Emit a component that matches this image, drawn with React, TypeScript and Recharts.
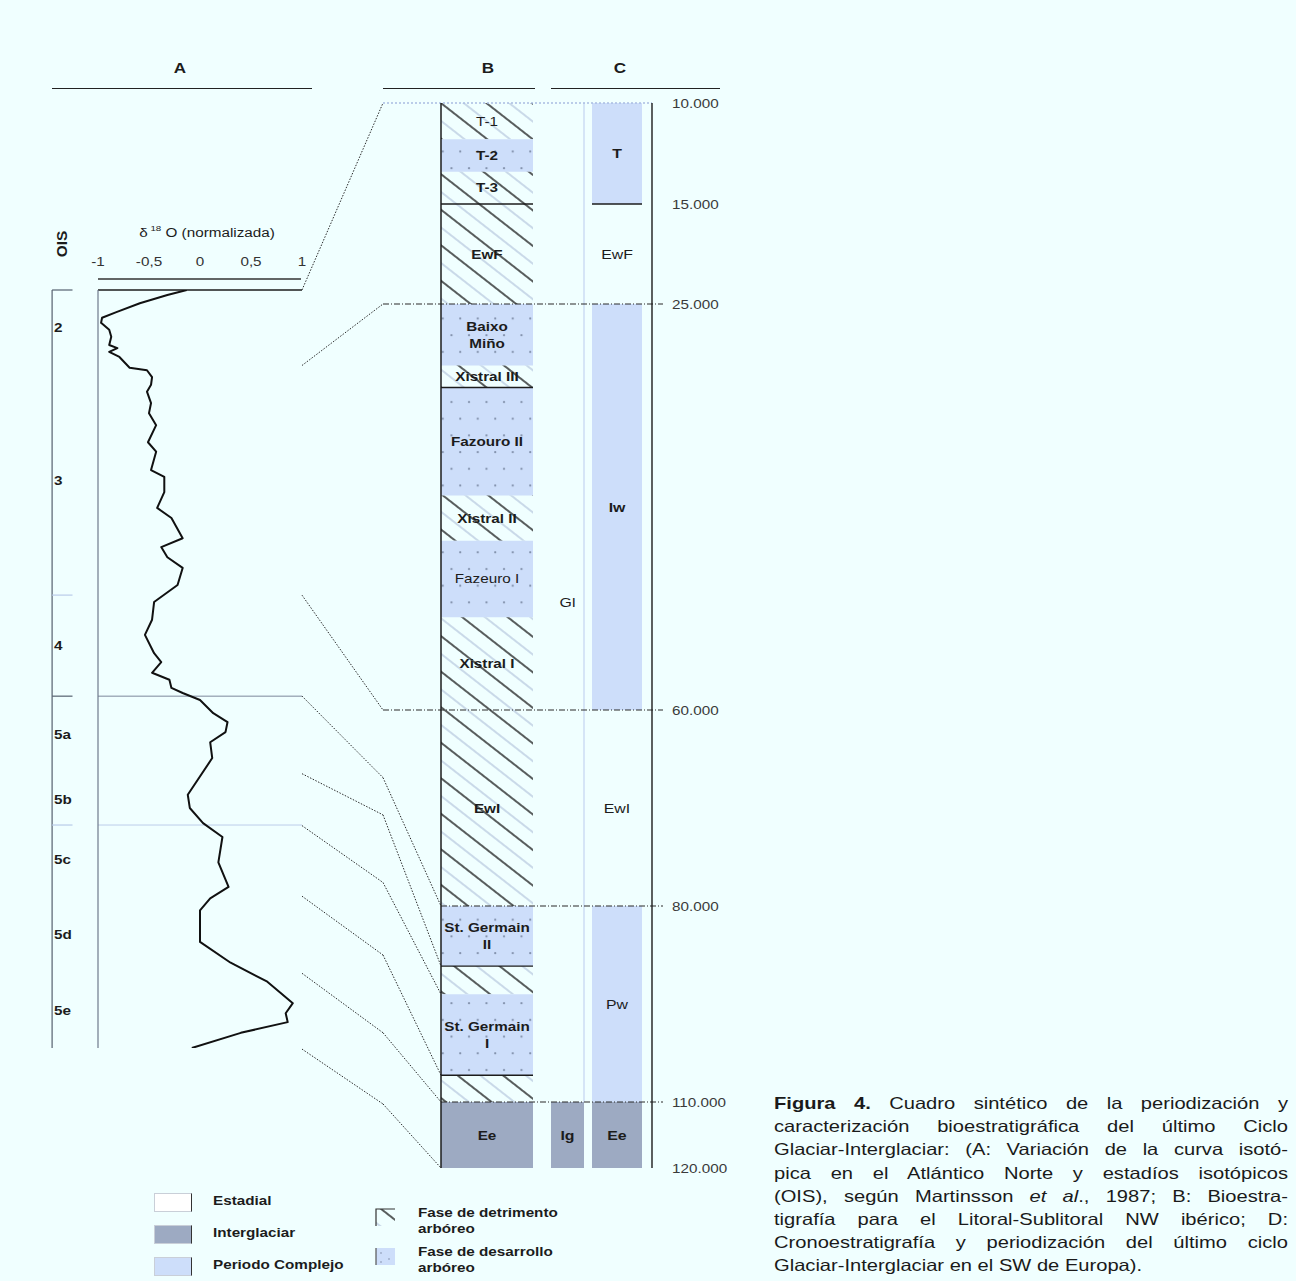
import React from 'react';
import {
  ComposedChart,
  LineChart,
  Line,
  XAxis,
  YAxis,
  ReferenceArea,
  ReferenceLine,
} from 'recharts';

// ---- A: normalised δ18O curve (age on a nominal ka scale, value -1..1)
const isoAge = [
  10.0, 10.8, 12.1, 13.5, 14.4, 15.2, 16.3, 17.4, 18.7, 19.2, 19.8, 20.6, 22.3, 22.7, 23.8, 25.0,
  26.1, 27.9, 29.5, 31.4, 34.1, 35.6, 38.5, 39.6, 42.0, 44.5, 46.1, 49.3, 50.7, 52.3, 54.0, 56.7,
  59.4, 62.2, 64.6, 67.5, 68.9, 70.6, 71.7, 73.0, 73.8, 74.9, 77.0, 78.4, 80.0, 81.6, 84.1, 89.9,
  92.0, 94.4, 96.6, 100.6, 104.5, 106.3, 108.2, 113.2, 116.5, 119.5, 122.9, 124.5, 125.9, 127.6, 130.0,
];
const isoValue = [
  -0.13, -0.32, -0.59, -0.82, -0.96, -0.97, -0.89, -0.87, -0.89, -0.81, -0.89, -0.79, -0.69, -0.52, -0.47, -0.48,
  -0.52, -0.48, -0.5, -0.43, -0.51, -0.43, -0.48, -0.35, -0.35, -0.42, -0.28, -0.17, -0.38, -0.32, -0.17, -0.22,
  -0.45, -0.47, -0.54, -0.45, -0.38, -0.47, -0.3, -0.28, -0.17, 0, 0.13, 0.27, 0.25, 0.1, 0.12, -0.12,
  -0.1, 0.03, 0.22, 0.18, 0.28, 0.1, 0, 0, 0.3, 0.66, 0.91, 0.84, 0.86, 0.4, -0.08,
];
const d18oTicks = [-1, -0.5, 0, 0.5, 1];
const oisLabels = ['2', '3', '4', '5a', '5b', '5c', '5d', '5e'];
const oisLabelAge = [16.0, 40.1, 66.2, 80.4, 90.7, 100.2, 112.1, 124.0];
const oisMajor = [10, 74.3];
const oisMinor = [58.3, 94.7];

// ---- B: bioestratigrafía (tops in ka, last bottom = 120)
const bioNames = [
  'T-1', 'T-2', 'T-3', 'EwF', 'Baixo\nMiño', 'Xistral III', 'Fazouro II', 'Xistral II',
  'Fazeuro I', 'Xistral I', 'EwI', 'St. Germain\nII', '', 'St. Germain\nI', '', 'Ee',
];
const bioTop = [10, 11.8, 13.4, 15, 25, 30.3, 32.2, 41.5, 45.4, 52.0, 60, 80, 89.2, 93.5, 105.9, 110];
// d = fase de detrimento, a = fase de desarrollo, i = interglaciar
const bioPhase = ['d', 'a', 'd', 'd', 'a', 'd', 'a', 'd', 'a', 'd', 'd', 'a', 'd', 'a', 'd', 'i'];
const bioBold = [false, true, true, true, true, true, true, true, false, true, true, true, true, true, true, true];
const bioRules = [15, 32.2, 89.2, 105.9];

// ---- Gl / Ig column
const glNames = ['Gl', 'Ig'];
const glTop = [10, 110];
const glKind = ['e', 'i'];

// ---- C: cronoestratigrafía
const chronoNames = ['T', 'EwF', 'Iw', 'EwI', 'Pw', 'Ee'];
const chronoTop = [10, 15, 25, 60, 80, 110];
const chronoKind = ['c', 'e', 'c', 'e', 'c', 'i'];
const chronoBold = [true, false, true, false, false, true];
const chronoRules = [15];
const BOTTOM_AGE = 120;

// broken age axis: ticks and their spacing along the column
const ageTicks = [10, 15, 25, 60, 80, 110, 120];
const tickDepth = [0, 1.01, 2.01, 6.07, 8.03, 9.99, 10.65];

// correlation lines A -> B (ages on the B/C scale)
const linkFrom = [23.6, 30.3, 50.1, 58.8, 66.5, 71.8, 79.0, 90.3, 101.9];
const linkBend = [10, 25, 60, 66.9, 70.7, 77.6, 87.5, 99.4, 110.3];
const linkTo = [null, null, null, 80, 89.2, 93.5, 105.9, 110, 120];
const guideAge = [10, 25, 60, 80, 110];

const BG = '#f0ffff';
const BLUE = '#cddefa';
const DARK = '#9daac2';
const INK = '#1c1c1c';
const FONT = '"Liberation Sans", Arial, sans-serif';
const WIDE = 1.22; // the lettering in this figure is set wide

// column extents on the B/C x scale
const COL_B: [number, number] = [13.9, 23.1];
const COL_GL: [number, number] = [24.9, 28.2];
const COL_C: [number, number] = [29.0, 34.0];
const BEND_X = 8.1;

const chrono = (age: number) => {
  for (let i = 1; i < ageTicks.length; i++) {
    if (age <= ageTicks[i]) {
      const t = (age - ageTicks[i - 1]) / (ageTicks[i] - ageTicks[i - 1]);
      return tickDepth[i - 1] + t * (tickDepth[i] - tickDepth[i - 1]);
    }
  }
  return tickDepth[tickDepth.length - 1];
};

type WTextProps = {
  x: number;
  y: number;
  anchor?: 'start' | 'middle' | 'end';
  size?: number;
  bold?: boolean;
  fill?: string;
  dy?: number;
  children: React.ReactNode;
};

function WText({ x, y, anchor = 'middle', size = 12.5, bold = false, fill = INK, dy = 0, children }: WTextProps) {
  return (
    <text
      transform={`translate(${x} ${y}) scale(${WIDE} 1)`}
      x={0}
      y={dy}
      textAnchor={anchor}
      fontFamily={FONT}
      fontSize={size}
      fontWeight={bold ? 'bold' : 'normal'}
      fill={fill}
    >
      {children}
    </text>
  );
}

const areaLabel = (text: string, bold: boolean, size = 12.5) => (props: any) => {
  if (!text) return null;
  const { x, y, width, height } = props.viewBox;
  const lines = text.split('\n');
  const cx = x + width / 2;
  const cy = y + height / 2 - ((lines.length - 1) * 17) / 2;
  return (
    <g transform={`translate(${cx} ${cy}) scale(${WIDE} 1)`}>
      {lines.map((l, i) => (
        <text
          key={i}
          x={0}
          y={i * 17 + size * 0.36}
          textAnchor="middle"
          fontFamily={FONT}
          fontSize={size}
          fontWeight={bold ? 'bold' : 'normal'}
          fill={INK}
        >
          {l}
        </text>
      ))}
    </g>
  );
};

const fillFor = (kind: string) =>
  kind === 'a' ? 'url(#dots)' : kind === 'd' ? 'url(#hatch)' : kind === 'i' ? DARK : kind === 'c' ? BLUE : 'none';

const OisTick = (p: any) => {
  const idx = oisLabelAge.indexOf(p.payload.value);
  return (
    <WText x={p.x - 36} y={p.y} dy={4.5} anchor="start" bold>
      {oisLabels[idx]}
    </WText>
  );
};

const D18Tick = (p: any) => (
  <WText x={p.x} y={p.y} fill="#333">
    {String(p.payload.value).replace('.', ',')}
  </WText>
);

const AgeTick = (p: any) => {
  const idx = tickDepth.indexOf(p.payload.value);
  return (
    <WText x={p.x} y={p.y} dy={4.5} anchor="start" fill="#3a3a3a">
      {`${ageTicks[idx]}.000`}
    </WText>
  );
};

function IsotopeCurve() {
  const data = isoAge.map((age, i) => ({ age, v: isoValue[i] }));
  return (
    <div style={{ position: 'absolute', left: 40, top: 240 }}>
      <LineChart
        width={280}
        height={820}
        data={data}
        layout="vertical"
        margin={{ top: 20, right: 18, bottom: 12, left: 12 }}
      >
        <XAxis
          type="number"
          dataKey="v"
          orientation="top"
          domain={[-1, 1]}
          ticks={d18oTicks}
          axisLine={false}
          tickLine={false}
          height={30}
          tickSize={6}
          tickMargin={18}
          tick={<D18Tick />}
          interval={0}
          allowDataOverflow
        />
        <YAxis
          type="number"
          dataKey="age"
          domain={[10, 130]}
          width={46}
          ticks={oisLabelAge}
          tick={<OisTick />}
          tickLine={false}
          axisLine={{ stroke: '#6f7a8c', strokeWidth: 1.2 }}
          interval={0}
          allowDataOverflow
        />
        {/* OIS column frame */}
        <ReferenceLine
          segment={[{ x: -1.45, y: 10 }, { x: -1.45, y: 130 }]}
          stroke="#55606f"
          strokeWidth={1.2}
          ifOverflow="visible"
        />
        {oisMajor.map((a) => (
          <ReferenceLine
            key={`maj-${a}`}
            segment={[{ x: -1.45, y: a }, { x: -1.25, y: a }]}
            stroke="#55606f"
            strokeWidth={1.2}
            ifOverflow="visible"
          />
        ))}
        {oisMinor.map((a) => (
          <ReferenceLine
            key={`min-${a}`}
            segment={[{ x: -1.45, y: a }, { x: -1.25, y: a }]}
            stroke="#b9cbe9"
            strokeWidth={1.2}
            ifOverflow="visible"
          />
        ))}
        <ReferenceLine y={74.3} stroke="#7d889c" strokeWidth={1} />
        <ReferenceLine y={94.7} stroke="#bccdea" strokeWidth={1} />
        <ReferenceLine
          segment={[{ x: -1, y: 8.26 }, { x: 0.99, y: 8.26 }]}
          stroke="#333"
          strokeWidth={1.3}
          ifOverflow="visible"
        />
        <ReferenceLine y={10} stroke={INK} strokeWidth={1.6} />
        <Line
          dataKey="v"
          stroke="#111"
          strokeWidth={2}
          dot={false}
          isAnimationActive={false}
          strokeLinejoin="round"
        />
      </LineChart>
    </div>
  );
}

function StratigraphyColumns() {
  const bioBottom = (i: number) => (i + 1 < bioTop.length ? bioTop[i + 1] : BOTTOM_AGE);
  const glBottom = (i: number) => (i + 1 < glTop.length ? glTop[i + 1] : BOTTOM_AGE);
  const chronoBottom = (i: number) => (i + 1 < chronoTop.length ? chronoTop[i + 1] : BOTTOM_AGE);
  const dashDot = '6 2 1 2';
  // left border of the B column, drawn as a series over the full time span
  const border = [
    { x: COL_B[0], d: chrono(ageTicks[0]) },
    { x: COL_B[0], d: chrono(BOTTOM_AGE) },
  ];
  return (
    <div style={{ position: 'absolute', left: 290, top: 60 }}>
      <ComposedChart
        width={442}
        height={1120}
        data={border}
        margin={{ top: 43, right: 10, bottom: 12, left: 12 }}
      >
        <defs>
          <pattern
            id="hatch"
            patternUnits="userSpaceOnUse"
            width="28"
            height="28"
            patternTransform="rotate(-52)"
          >
            <line x1="3" y1="0" x2="3" y2="28" stroke="#0e0e0e" strokeWidth="1.35" />
            <line x1="17" y1="0" x2="17" y2="28" stroke="#a3b4d2" strokeWidth="1" />
          </pattern>
          <pattern id="dots" patternUnits="userSpaceOnUse" width="17.5" height="33.4">
            <rect width="17.5" height="33.4" fill={BLUE} />
            <circle cx="4" cy="8" r="1.1" fill="#8190aa" />
            <circle cx="12.75" cy="24.7" r="1.1" fill="#8190aa" />
          </pattern>
        </defs>
        <XAxis type="number" dataKey="x" domain={[0, 35]} hide allowDataOverflow />
        <YAxis
          type="number"
          orientation="right"
          domain={[0, tickDepth[tickDepth.length - 1]]}
          reversed
          ticks={tickDepth}
          interval={0}
          width={70}
          tickLine={false}
          tickSize={6}
          tickMargin={14}
          axisLine={{ stroke: INK, strokeWidth: 1.4 }}
          tick={<AgeTick />}
          allowDataOverflow
        />

        {/* B column */}
        {bioTop.map((top, i) => (
          <ReferenceArea
            key={`b-${i}`}
            x1={COL_B[0]}
            x2={COL_B[1]}
            y1={chrono(top)}
            y2={chrono(bioBottom(i))}
            fill={fillFor(bioPhase[i])}
            fillOpacity={1}
            stroke="none"
            ifOverflow="visible"
            label={areaLabel(bioNames[i], bioBold[i])}
          />
        ))}
        {/* Gl / Ig column */}
        {glTop.map((top, i) => (
          <ReferenceArea
            key={`g-${i}`}
            x1={COL_GL[0]}
            x2={COL_GL[1]}
            y1={chrono(top)}
            y2={chrono(glBottom(i))}
            fill={fillFor(glKind[i])}
            fillOpacity={1}
            stroke="none"
            ifOverflow="visible"
            label={areaLabel(glNames[i], i === 1, 13)}
          />
        ))}
        {/* C column */}
        {chronoTop.map((top, i) => (
          <ReferenceArea
            key={`c-${i}`}
            x1={COL_C[0]}
            x2={COL_C[1]}
            y1={chrono(top)}
            y2={chrono(chronoBottom(i))}
            fill={fillFor(chronoKind[i])}
            fillOpacity={1}
            stroke="none"
            ifOverflow="visible"
            label={areaLabel(chronoNames[i], chronoBold[i], 13)}
          />
        ))}

        <ReferenceLine
          segment={[{ x: COL_GL[1], y: chrono(10) }, { x: COL_GL[1], y: chrono(110) }]}
          stroke="#c3d4f1"
          strokeWidth={1.2}
          ifOverflow="visible"
        />
        {bioRules.map((a) => (
          <ReferenceLine
            key={`br-${a}`}
            segment={[{ x: COL_B[0], y: chrono(a) }, { x: COL_B[1], y: chrono(a) }]}
            stroke={INK}
            strokeWidth={1.4}
            ifOverflow="visible"
          />
        ))}
        {chronoRules.map((a) => (
          <ReferenceLine
            key={`cr-${a}`}
            segment={[{ x: COL_C[0], y: chrono(a) }, { x: COL_C[1], y: chrono(a) }]}
            stroke={INK}
            strokeWidth={1.4}
            ifOverflow="visible"
          />
        ))}

        {/* horizontal guides to the age axis */}
        {guideAge.map((a, i) => (
          <ReferenceLine
            key={`gd-${a}`}
            segment={[
              { x: i < 3 ? BEND_X : COL_B[0], y: chrono(a) },
              { x: i === 0 ? 35 : 36.1, y: chrono(a) },
            ]}
            stroke={i === 0 ? '#a9bde2' : '#2a2a2a'}
            strokeWidth={i === 0 ? 1.3 : 1.1}
            strokeDasharray={i === 0 ? '2 2' : dashDot}
            ifOverflow="visible"
          />
        ))}

        {/* correlation lines from the isotope curve */}
        {linkFrom.map((from, i) => (
          <ReferenceLine
            key={`l1-${i}`}
            segment={[{ x: 0, y: chrono(from) }, { x: BEND_X, y: chrono(linkBend[i]) }]}
            stroke="#2a2a2a"
            strokeWidth={1}
            strokeDasharray="1.5 1.5"
            ifOverflow="visible"
          />
        ))}
        {linkTo.map((to, i) =>
          to === null ? null : (
            <ReferenceLine
              key={`l2-${i}`}
              segment={[{ x: BEND_X, y: chrono(linkBend[i]) }, { x: COL_B[0], y: chrono(to) }]}
              stroke="#2a2a2a"
              strokeWidth={1}
              strokeDasharray="1.5 1.5"
              ifOverflow="visible"
            />
          ),
        )}
        <Line
          dataKey="d"
          stroke={INK}
          strokeWidth={1.5}
          dot={false}
          isAnimationActive={false}
        />
      </ComposedChart>
    </div>
  );
}

const abs = (left: number, top: number, extra: React.CSSProperties = {}): React.CSSProperties => ({
  position: 'absolute',
  left,
  top,
  ...extra,
});

const captionLines = [
  <>
    <b>Figura 4.</b> Cuadro sintético de la periodización y
  </>,
  <>caracterización bioestratigráfica del último Ciclo</>,
  <>Glaciar-Interglaciar: (A: Variación de la curva isotó-</>,
  <>pica en el Atlántico Norte y estadíos isotópicos</>,
  <>
    (OIS), según Martinsson <i>et al</i>., 1987; B: Bioestra-
  </>,
  <>tigrafía para el Litoral-Sublitoral NW ibérico; D:</>,
  <>Cronoestratigrafía y periodización del último ciclo</>,
  <>Glaciar-Interglaciar en el SW de Europa).</>,
];

const wideHtml: React.CSSProperties = { transform: `scaleX(${WIDE})`, transformOrigin: 'left center', whiteSpace: 'nowrap' };

function Legend() {
  const label: React.CSSProperties = { fontFamily: FONT, fontSize: 12.5, fontWeight: 'bold', color: INK, ...wideHtml };
  const boxes = [
    { top: 1193, fill: '#ffffff', text: 'Estadial' },
    { top: 1225, fill: DARK, text: 'Interglaciar' },
    { top: 1257, fill: BLUE, text: 'Periodo Complejo' },
  ];
  return (
    <>
      {boxes.map((b) => (
        <React.Fragment key={b.text}>
          <div
            style={abs(154, b.top, {
              width: 36,
              height: 17,
              background: b.fill,
              border: '1px solid #c9cfd8',
              borderRight: '1.5px solid #333',
            })}
          />
          <div style={abs(213, b.top + 1, label)}>{b.text}</div>
        </React.Fragment>
      ))}
      <svg style={abs(375, 1208)} width={22} height={20}>
        <rect x={1} y={1} width={19} height={17} fill="url(#hatch)" />
        <path d="M1 18 V1 H20" fill="none" stroke="#333" strokeWidth={1.2} />
      </svg>
      <div style={abs(418, 1205, { ...label, lineHeight: '16px' })}>
        Fase de detrimento
        <br />
        arbóreo
      </div>
      <svg style={abs(375, 1247)} width={22} height={20}>
        <rect x={1} y={1} width={19} height={17} fill={BLUE} />
        <circle cx={6} cy={6} r={0.8} fill="#7f8da6" />
        <circle cx={14} cy={12} r={0.8} fill="#7f8da6" />
        <circle cx={6} cy={15} r={0.8} fill="#7f8da6" />
        <path d="M1 18 V1" fill="none" stroke="#555" strokeWidth={1.2} />
      </svg>
      <div style={abs(418, 1244, { ...label, lineHeight: '16px' })}>
        Fase de desarrollo
        <br />
        arbóreo
      </div>
    </>
  );
}

const CAPTION_LEFT = 774;
const CAPTION_WIDTH = 514;

export default function App() {
  const header: React.CSSProperties = {
    fontFamily: FONT,
    fontSize: 14,
    fontWeight: 'bold',
    color: INK,
    transform: `translate(-50%, -50%) scaleX(${WIDE})`,
  };
  return (
    <div style={{ position: 'absolute', left: 0, top: 0, width: 1296, height: 1281, background: BG, overflow: 'hidden' }}>
      {/* panel headers */}
      <div style={abs(180, 68, header)}>A</div>
      <div style={abs(488, 68, header)}>B</div>
      <div style={abs(620, 68, header)}>C</div>
      <div style={abs(52, 88, { width: 260, borderTop: '1.5px solid #222' })} />
      <div style={abs(383, 88, { width: 152, borderTop: '1.5px solid #222' })} />
      <div style={abs(551, 88, { width: 169, borderTop: '1.5px solid #222' })} />

      <div style={abs(62, 244, { ...header, transform: 'translate(-50%, -50%) rotate(-90deg) scaleX(1.1)' })}>OIS</div>
      <div
        style={abs(207, 232, {
          fontFamily: FONT,
          fontSize: 12.5,
          color: INK,
          transform: `translate(-50%, -50%) scaleX(${WIDE})`,
          whiteSpace: 'nowrap',
        })}
      >
        δ<sup style={{ fontSize: 8 }}> 18</sup> O (normalizada)
      </div>

      <IsotopeCurve />
      <StratigraphyColumns />
      <Legend />

      <div style={abs(CAPTION_LEFT, 1092, { fontFamily: FONT, fontSize: 16.5, lineHeight: '23.2px', color: '#1a1a1a' })}>
        {captionLines.map((line, i) => (
          <div
            key={i}
            style={{
              width: CAPTION_WIDTH / WIDE,
              textAlign: 'justify',
              textAlignLast: i === captionLines.length - 1 ? 'left' : 'justify',
              whiteSpace: 'nowrap',
              transform: `scaleX(${WIDE})`,
              transformOrigin: 'left center',
            }}
          >
            {line}
          </div>
        ))}
      </div>
    </div>
  );
}
